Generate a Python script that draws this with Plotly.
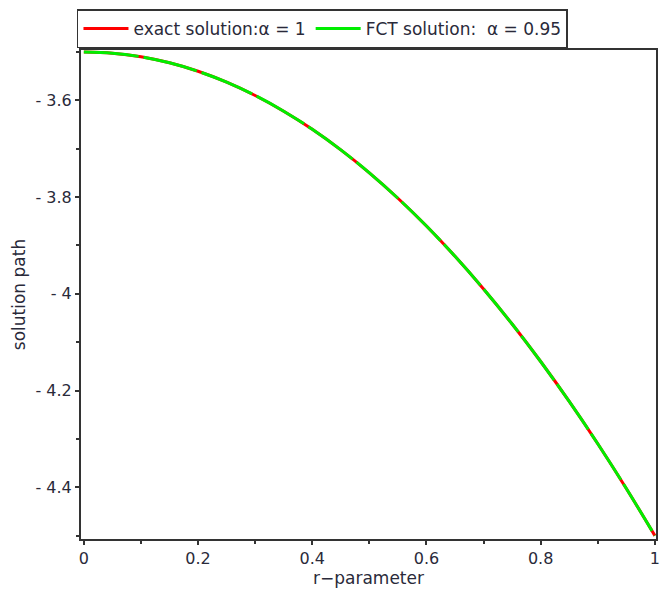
import plotly.graph_objects as go

# r-parameter samples and the solution path values
r_values = [0.0, 0.05, 0.1, 0.15, 0.2, 0.25, 0.3, 0.35, 0.4, 0.45, 0.5,
            0.55, 0.6, 0.65, 0.7, 0.75, 0.8, 0.85, 0.9, 0.95, 1.0]
exact_path = [-3.5, -3.5025, -3.51, -3.5225, -3.54, -3.5625, -3.59, -3.6225,
              -3.66, -3.7025, -3.75, -3.8025, -3.86, -3.9225, -3.99, -4.0625,
              -4.14, -4.2225, -4.31, -4.4025, -4.5]
fct_path = [-3.5, -3.5025, -3.51, -3.5225, -3.54, -3.5625, -3.59, -3.6225,
            -3.66, -3.7025, -3.75, -3.8025, -3.86, -3.9225, -3.99, -4.0625,
            -4.14, -4.2225, -4.31, -4.4025, -4.5]

x_ticks = [0, 0.2, 0.4, 0.6, 0.8, 1]
x_ticktext = ["0", "0.2", "0.4", "0.6", "0.8", "1"]
y_ticks = [-3.6, -3.8, -4.0, -4.2, -4.4]
y_ticktext = ["- 3.6", "- 3.8", "- 4", "- 4.2", "- 4.4"]

FONT = "DejaVu Sans"
TXT = "#2a2a3a"

fig = go.Figure()
fig.add_trace(go.Scatter(
    x=r_values, y=exact_path, mode="lines", name="exact solution:α = 1",
    line=dict(color="#ff0000", width=3, shape="spline"),
))
fig.add_trace(go.Scatter(
    x=r_values, y=fct_path, mode="lines", name="FCT solution:  α = 0.95",
    line=dict(color="#00ee00", width=3, shape="spline", dash="55px,5px"),
))

axis_common = dict(
    showline=True, linecolor="#333333", linewidth=2, mirror=True,
    ticks="outside", ticklen=4, tickwidth=1.5, tickcolor="#333333",
    showgrid=False, zeroline=False,
    tickfont=dict(family=FONT, size=16, color=TXT),
    minor=dict(ticks="outside", ticklen=3, tickwidth=1.5, tickcolor="#333333"),
)

fig.update_xaxes(
    range=[-0.005, 1.002], tickvals=x_ticks, ticktext=x_ticktext,
    title=dict(text="r−parameter", font=dict(family=FONT, size=17, color=TXT), standoff=4),
    **axis_common,
)
fig.update_yaxes(
    range=[-4.507, -3.496], tickvals=y_ticks, ticktext=y_ticktext,
    title=dict(text="solution path", font=dict(family=FONT, size=17, color=TXT), standoff=6),
    **axis_common,
)
fig.update_xaxes(minor_tickvals=[0.1, 0.3, 0.5, 0.7, 0.9])
fig.update_yaxes(minor_tickvals=[-3.5, -3.7, -3.9, -4.1, -4.3, -4.5])

fig.update_layout(
    width=669, height=593,
    margin=dict(l=81, r=9, t=46, b=54),
    plot_bgcolor="white", paper_bgcolor="white",
    font=dict(family=FONT, size=16, color=TXT),
    legend=dict(
        orientation="h", x=-0.007, y=1.083, xanchor="left", yanchor="top",
        bordercolor="#333333", borderwidth=1.5, bgcolor="white",
        font=dict(family=FONT, size=17, color=TXT),
        itemwidth=45, tracegroupgap=0,
    ),
)

fig.write_html("out.html")
